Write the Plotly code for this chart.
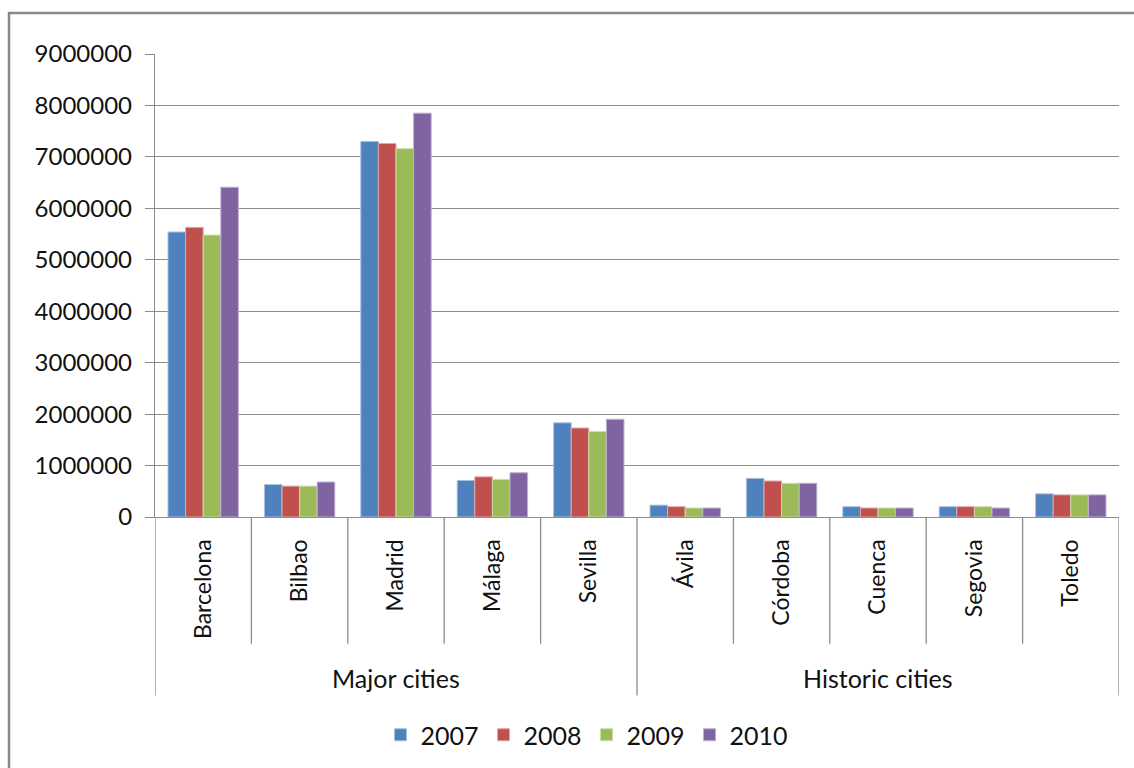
import plotly.graph_objects as go

cities = ["Barcelona", "Bilbao", "Madrid", "Málaga", "Sevilla",
          "Ávila", "Córdoba", "Cuenca", "Segovia", "Toledo"]
groups = ["Major cities", "Historic cities"]
group_sizes = [5, 5]
years = ["2007", "2008", "2009", "2010"]

v2007 = [5540000, 630000, 7300000, 710000, 1830000, 230000, 750000, 200000, 200000, 450000]
v2008 = [5630000, 600000, 7260000, 780000, 1730000, 200000, 700000, 175000, 200000, 430000]
v2009 = [5480000, 600000, 7160000, 730000, 1660000, 175000, 655000, 175000, 200000, 430000]
v2010 = [6410000, 680000, 7850000, 860000, 1900000, 175000, 655000, 175000, 175000, 430000]
series = [v2007, v2008, v2009, v2010]

colors = ["#4F81BD", "#C0504D", "#9BBB59", "#8064A2"]
edge = ["#A7C0DE", "#DFA7A6", "#CDDDAC", "#BFB1D0"]

FONT = "Lato"
TXT = "#111111"
fig = go.Figure()
for name, vals, c, e in zip(years, series, colors, edge):
    fig.add_trace(go.Bar(x=list(range(len(cities))), y=vals, name=name,
                         marker=dict(color=c, line=dict(color=e, width=1))))

grid = "#8C8C8C"
shapes = []
# outer frame
shapes.append(dict(type="rect", xref="paper", yref="paper", layer="below",
                   x0=-155/964 + 9/964, x1=1.05, y0=-1.0, y1=(518-13)/464,
                   line=dict(color="#888888", width=2.5), fillcolor="rgba(0,0,0,0)"))
# category separators
y_cat = (518 - 645) / 464
y_grp = (518 - 697) / 464
bounds = [i - 0.5 for i in range(len(cities) + 1)]
group_edges = [-0.5]
acc = -0.5
for s in group_sizes:
    acc += s
    group_edges.append(acc)
for b in bounds:
    y1 = y_grp if b in group_edges else y_cat
    shapes.append(dict(type="line", xref="x", yref="paper", x0=b, x1=b,
                       y0=0, y1=y1, line=dict(color=grid, width=1.3)))

annotations = []
start = 0
for g, s in zip(groups, group_sizes):
    annotations.append(dict(x=start + (s - 1) / 2, y=(518 - 679) / 464, xref="x", yref="paper",
                            text=g, showarrow=False, font=dict(family=FONT, size=25, color=TXT),
                            xanchor="center", yanchor="middle"))
    start += s

fig.update_layout(
    width=1134, height=768,
    margin=dict(l=155, r=15, t=54, b=250),
    plot_bgcolor="white", paper_bgcolor="white",
    barmode="group", bargap=0.27, bargroupgap=0.0,
    font=dict(family=FONT, size=24, color=TXT),
    shapes=shapes, annotations=annotations,
    legend=dict(orientation="h", x=(587 - 155) / 964, xanchor="center", y=(518 - 735) / 464,
                yanchor="middle", font=dict(family=FONT, size=25, color=TXT), itemwidth=30),
    xaxis=dict(tickmode="array", tickvals=list(range(len(cities))), ticktext=cities,
               tickangle=-90, range=[-0.5, len(cities) - 0.5], showgrid=False,
               showline=True, linecolor=grid, linewidth=1.3, ticks="",
               ticklabelstandoff=12, tickfont=dict(family=FONT, size=23, color=TXT)),
    yaxis=dict(range=[0, 9000000], dtick=1000000, tickformat="d", showgrid=True,
               gridcolor=grid, gridwidth=1.3, showline=True, linecolor=grid, linewidth=1.3,
               ticks="outside", ticklen=9, tickcolor=grid, tickwidth=1.3,
               ticklabelstandoff=8, zeroline=False,
               tickfont=dict(family=FONT, size=24, color=TXT)),
)
fig.write_html("out.html")
